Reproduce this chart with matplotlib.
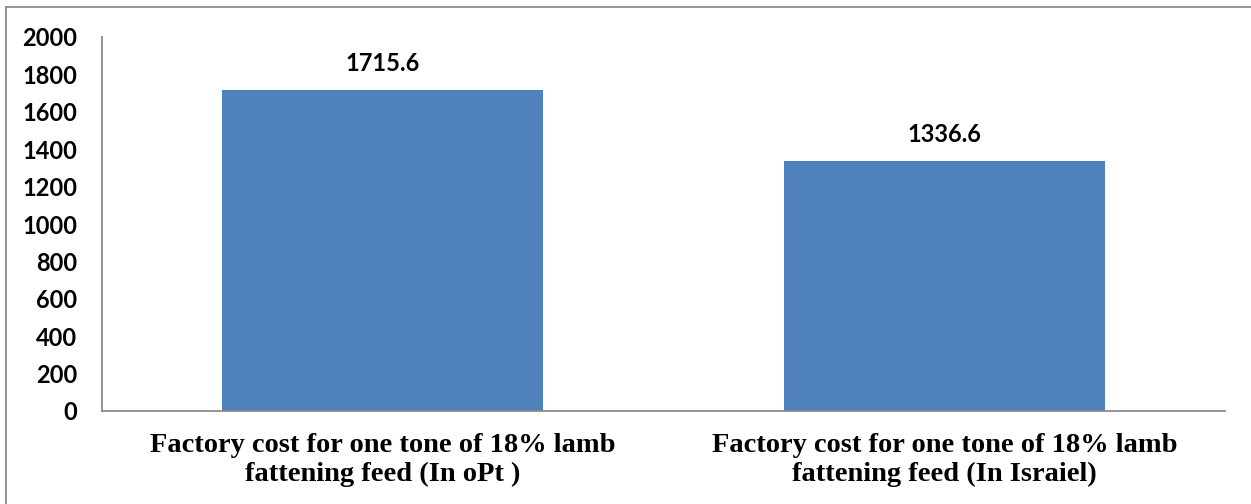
import matplotlib
matplotlib.use("agg")
from matplotlib import pyplot as plt
from matplotlib.lines import Line2D

categories = [
    "Factory cost for one tone of 18% lamb\nfattening feed (In oPt )",
    "Factory cost for one tone of 18% lamb\nfattening feed (In Israiel)",
]
values = [1715.6, 1336.6]
yticks = [0, 200, 400, 600, 800, 1000, 1200, 1400, 1600, 1800, 2000]

fig = plt.figure(figsize=(12.51, 5.04), dpi=100)
ax = fig.add_axes([102 / 1251, 1 - 411 / 504, (1225 - 102) / 1251, (411 - 37) / 504])

x = range(len(values))
bars = ax.bar(x, values, width=0.572, color="#4F81BD", edgecolor="none")
ax.set_xlim(-0.5, len(values) - 0.5)
ax.set_ylim(0, 2000)
ax.set_yticks(yticks)
ax.set_yticklabels([str(v) for v in yticks], fontfamily="Lato", fontweight="bold", fontsize=17)
ax.set_xticks(list(x))
ax.set_xticklabels(categories, fontfamily="Liberation Serif", fontweight="bold",
                   fontsize=20.5, linespacing=1.2)
ax.tick_params(axis="y", length=0, pad=18)
ax.tick_params(axis="x", length=0, pad=16)

for s in ["top", "right"]:
    ax.spines[s].set_visible(False)
for s in ["left", "bottom"]:
    ax.spines[s].set_color("#8C8C8C")
    ax.spines[s].set_linewidth(1.3)

for b, v in zip(bars, values):
    ax.annotate(str(v), (b.get_x() + b.get_width() / 2, v), xytext=(0, 11),
                textcoords="offset points", ha="center", va="bottom",
                fontfamily="Lato", fontweight="bold", fontsize=17)

# outer chart border (top and left visible)
fig.add_artist(Line2D([6 / 1251, 1.0], [1 - 7 / 504] * 2, color="#8C8C8C", lw=1.3,
                      transform=fig.transFigure))
fig.add_artist(Line2D([6 / 1251] * 2, [0.0, 1 - 7 / 504], color="#8C8C8C", lw=1.3,
                      transform=fig.transFigure))

fig.savefig("out.png", dpi=100)
plt.close()
